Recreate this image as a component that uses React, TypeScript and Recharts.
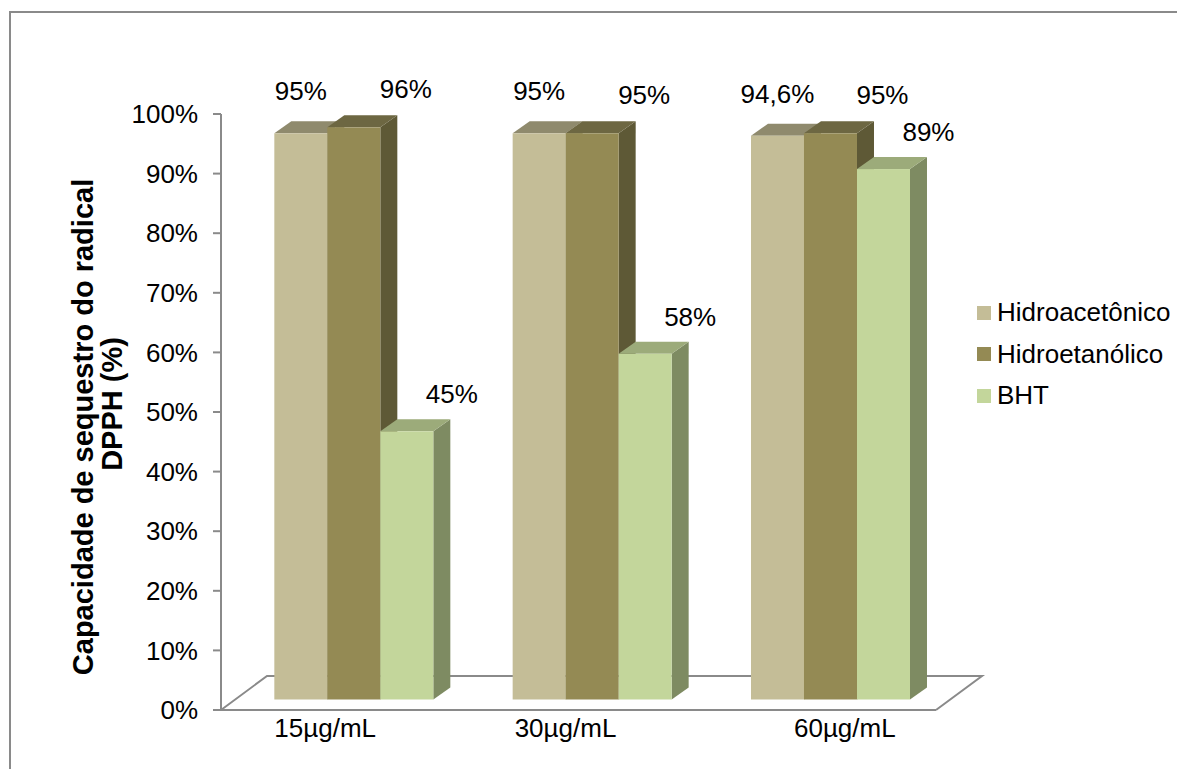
import { BarChart, Bar, XAxis, YAxis, LabelList, Customized, usePlotArea } from 'recharts';

document.body.style.margin = '0';

const categories = ['15µg/mL', '30µg/mL', '60µg/mL'];
const hidroacetonico = [95, 95, 94.6];
const hidroetanolico = [96, 95, 95];
const bht = [45, 58, 89];
const yTicks = [0, 10, 20, 30, 40, 50, 60, 70, 80, 90, 100];

const FONT = "'Liberation Sans', Arial, sans-serif";
const TEXT_SIZE = 26;
const AXIS_GRAY = '#8a8a8a';

// fake 3D: front face is pushed back into the floor, top/side faces go up-right
const SHIFT_X = 14;
const SHIFT_Y = 10.5;
const DEPTH_X = 17;
const DEPTH_Y = 12;
const FLOOR_DX = 46;
const FLOOR_DY = 34;

const series = [
  { key: 'hidroacetonico', name: 'Hidroacetônico', front: '#C4BD97', top: '#8F8A6D', side: '#A29C7B' },
  { key: 'hidroetanolico', name: 'Hidroetanólico', front: '#948A54', top: '#6D6742', side: '#5E5936' },
  { key: 'bht', name: 'BHT', front: '#C3D69B', top: '#9CAB7A', side: '#7E8B62' },
];
// where each series puts its value label, relative to the top of its front face
const labelOffsets = [
  { dx: 0, dy: 42 },
  { dx: 52, dy: 38 },
  { dx: 45, dy: 37 },
];
const tickNudge = [-15, -13, 28];

const data = categories.map((name, i) => ({
  name,
  hidroacetonico: hidroacetonico[i],
  hidroetanolico: hidroetanolico[i],
  bht: bht[i],
}));

const fmt = (v: number) => `${String(v).replace('.', ',')}%`;

function Box3D(props: any) {
  const { x, y, width, height, faces } = props;
  if (!height) return null;
  const fx = x + SHIFT_X;
  const fy = y - SHIFT_Y;
  const r = fx + width;
  const b = fy + height;
  return (
    <g>
      <polygon
        points={`${r},${fy} ${r + DEPTH_X},${fy - DEPTH_Y} ${r + DEPTH_X},${b - DEPTH_Y} ${r},${b}`}
        fill={faces.side}
      />
      <polygon
        points={`${fx},${fy} ${fx + DEPTH_X},${fy - DEPTH_Y} ${r + DEPTH_X},${fy - DEPTH_Y} ${r},${fy}`}
        fill={faces.top}
      />
      <rect x={fx} y={fy} width={width} height={height} fill={faces.front} />
    </g>
  );
}

function valueLabel(dx: number, dy: number) {
  return (p: any) => (
    <text
      x={Number(p.x) + SHIFT_X + Number(p.width) / 2 + dx}
      y={Number(p.y) - SHIFT_Y - dy}
      textAnchor="middle"
      dominantBaseline="central"
      fontFamily={FONT}
      fontSize={TEXT_SIZE}
      fill="#000"
    >
      {fmt(Number(p.value))}
    </text>
  );
}

function Floor() {
  const area = usePlotArea();
  if (!area) return null;
  const x0 = area.x;
  const x1 = area.x + area.width;
  const yb = area.y + area.height;
  return (
    <polyline
      points={`${x0},${yb} ${x0 + FLOOR_DX},${yb - FLOOR_DY} ${x1 + FLOOR_DX},${yb - FLOOR_DY} ${x1},${yb}`}
      fill="none"
      stroke={AXIS_GRAY}
      strokeWidth={2}
    />
  );
}

function CategoryTick(props: any) {
  const { x, y, payload, index } = props;
  return (
    <text
      x={x + (tickNudge[index] ?? 0)}
      y={y + 10}
      textAnchor="middle"
      dominantBaseline="central"
      fontFamily={FONT}
      fontSize={TEXT_SIZE}
      fill="#000"
    >
      {payload.value}
    </text>
  );
}

function AxisTitle() {
  return (
    <g fontFamily={FONT} fontSize={29} fontWeight="bold" fill="#000" textAnchor="middle">
      <text transform="translate(83,427) rotate(-90)" dominantBaseline="central">
        Capacidade de sequestro do radical
      </text>
      <text transform="translate(112,404) rotate(-90)" dominantBaseline="central">
        DPPH (%)
      </text>
    </g>
  );
}

function LegendBox() {
  return (
    <div style={{ position: 'absolute', left: 977, top: 292, fontFamily: FONT, fontSize: TEXT_SIZE }}>
      {series.map((s) => (
        <div key={s.key} style={{ display: 'flex', alignItems: 'center', height: 41.5 }}>
          <span style={{ width: 14, height: 14, background: s.front, marginRight: 6, display: 'inline-block' }} />
          <span>{s.name}</span>
        </div>
      ))}
    </div>
  );
}

export default function App() {
  return (
    <div style={{ position: 'relative', width: 1177, height: 769, overflow: 'hidden', background: '#fff' }}>
      <div
        style={{
          position: 'absolute',
          left: 9,
          top: 11,
          width: 1300,
          height: 900,
          border: `2px solid ${AXIS_GRAY}`,
        }}
      />
      <div style={{ position: 'absolute', left: 0, top: 0 }}>
        <BarChart
          width={1177}
          height={769}
          data={data}
          margin={{ top: 114, right: 241, bottom: 19, left: 121 }}
          barCategoryGap="16.5%"
          barGap={0}
        >
          <Customized component={Floor} />
          <Customized component={AxisTitle} />
          <XAxis
            dataKey="name"
            height={40}
            axisLine={{ stroke: AXIS_GRAY, strokeWidth: 2 }}
            tickLine={false}
            tick={<CategoryTick />}
            interval={0}
          />
          <YAxis
            width={100}
            domain={[0, 100]}
            ticks={yTicks}
            interval={0}
            tickFormatter={(v) => `${v}%`}
            axisLine={{ stroke: AXIS_GRAY, strokeWidth: 2 }}
            tickLine={{ stroke: AXIS_GRAY, strokeWidth: 2 }}
            tickSize={8}
            tickMargin={15}
            tick={{ fontFamily: FONT, fontSize: TEXT_SIZE, fill: '#000' }}
          />
          {series.map((s, i) => (
            <Bar
              key={s.key}
              dataKey={s.key}
              name={s.name}
              isAnimationActive={false}
              shape={(p: any) => <Box3D {...p} faces={s} />}
            >
              <LabelList
                dataKey={s.key}
                content={valueLabel(labelOffsets[i].dx, labelOffsets[i].dy)}
              />
            </Bar>
          ))}
        </BarChart>
      </div>
      <LegendBox />
    </div>
  );
}
